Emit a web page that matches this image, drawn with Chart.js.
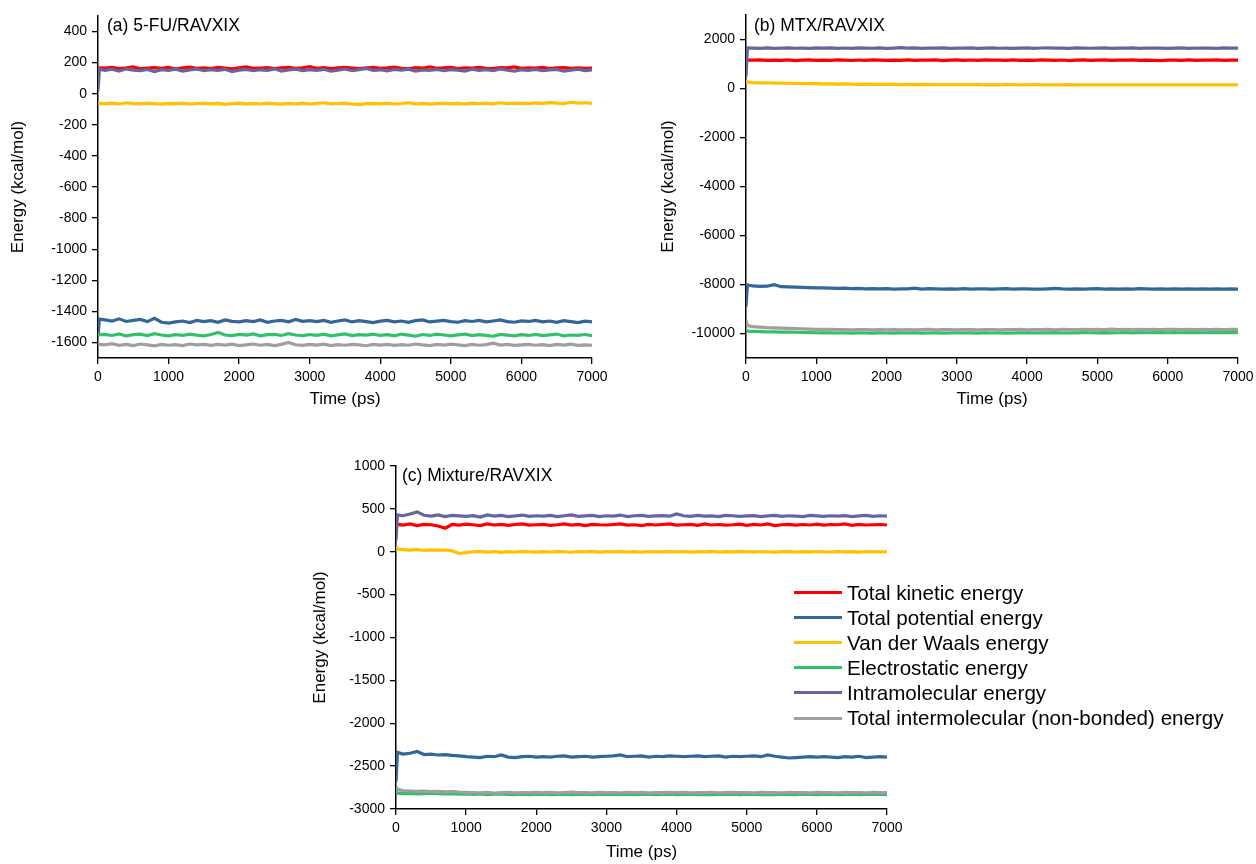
<!DOCTYPE html>
<html><head><meta charset="utf-8">
<script src="https://cdn.jsdelivr.net/npm/chart.js@4.4.1/dist/chart.umd.min.js"></script>
<style>
html,body{margin:0;padding:0;background:#fff;}
body{width:1256px;height:864px;position:relative;overflow:hidden;font-family:"Liberation Sans",Arial,sans-serif;color:#000;}
canvas{position:absolute;}
.plabel{position:absolute;font-size:17.5px;line-height:20px;white-space:nowrap;}
#legend{position:absolute;left:794px;top:580px;}
.lr{height:25.1px;display:flex;align-items:center;font-size:20.6px;white-space:nowrap;}
.sw{width:48px;height:3px;margin-right:5px;flex:none;}
</style></head><body>
<canvas id="ca" width="620" height="420" style="left:0;top:0"></canvas>
<canvas id="cb" width="630" height="420" style="left:650px;top:0"></canvas>
<canvas id="cc" width="630" height="424" style="left:300px;top:440px"></canvas>
<div class="plabel" style="left:107px;top:15px">(a) 5-FU/RAVXIX</div>
<div class="plabel" style="left:754px;top:15px">(b) MTX/RAVXIX</div>
<div class="plabel" style="left:402px;top:465px">(c) Mixture/RAVXIX</div>
<div id="legend"></div>
<script>
const seriesNames = ["Total kinetic energy","Total potential energy","Van der Waals energy","Electrostatic energy","Intramolecular energy","Total intermolecular (non-bonded) energy"];
const seriesColors = ["#ff0000","#336699","#ffc000","#33c06a","#66669e","#9f9f9f"];
const drawOrder = [5,4,3,2,1,0];

const times = [0,20,100,200,300,400,500,600,700,800,900,1000,1100,1200,1300,1400,1500,1600,1700,1800,1900,2000,2100,2200,2300,2400,2500,2600,2700,2800,2900,3000,3100,3200,3300,3400,3500,3600,3700,3800,3900,4000,4100,4200,4300,4400,4500,4600,4700,4800,4900,5000,5100,5200,5300,5400,5500,5600,5700,5800,5900,6000,6100,6200,6300,6400,6500,6600,6700,6800,6900,7000];
const xTicks = [0,1000,2000,3000,4000,5000,6000,7000];

// (a) 5-FU/RAVXIX
const aKinetic = [158,166,
165,170,162,166,172,160,165,168,163,170,
158,166,171,164,167,162,169,165,160,166,
172,163,165,168,161,167,170,164,166,175,
163,168,162,166,170,165,161,167,169,163,
166,171,164,160,168,165,172,163,166,169,
162,167,165,170,164,161,168,166,172,163,
167,165,170,162,166,168,164,167,163,165];
const aPotential = [-1560,-1450,
-1455,-1462,-1448,-1465,-1458,-1452,-1466,-1445,-1470,-1475,
-1468,-1462,-1472,-1458,-1466,-1460,-1470,-1455,-1464,-1468,
-1460,-1466,-1455,-1470,-1462,-1458,-1467,-1452,-1464,-1460,
-1466,-1458,-1470,-1462,-1455,-1468,-1460,-1466,-1472,-1463,
-1458,-1467,-1462,-1470,-1460,-1455,-1468,-1463,-1458,-1466,
-1470,-1460,-1465,-1458,-1468,-1462,-1455,-1466,-1470,-1461,
-1465,-1458,-1468,-1462,-1470,-1460,-1466,-1472,-1463,-1468];
const aVdw = [-68,-62,
-64,-60,-66,-58,-62,-65,-60,-63,-67,-62,
-64,-60,-66,-63,-61,-65,-62,-68,-64,-60,
-65,-62,-66,-60,-64,-67,-62,-65,-61,-66,
-62,-58,-65,-63,-60,-66,-70,-64,-62,-65,
-61,-66,-63,-58,-65,-62,-67,-63,-60,-64,
-62,-66,-60,-64,-61,-65,-58,-63,-60,-62,
-64,-59,-62,-57,-61,-63,-55,-60,-58,-62];
const aElec = [-1545,-1550,
-1548,-1555,-1545,-1558,-1550,-1547,-1556,-1544,-1552,-1558,
-1550,-1555,-1546,-1553,-1558,-1549,-1535,-1552,-1556,-1548,
-1553,-1545,-1557,-1550,-1548,-1555,-1543,-1552,-1556,-1549,
-1554,-1547,-1558,-1551,-1545,-1556,-1550,-1553,-1547,-1555,
-1550,-1557,-1546,-1553,-1560,-1549,-1555,-1547,-1552,-1558,
-1551,-1546,-1556,-1550,-1555,-1560,-1548,-1553,-1557,-1550,
-1555,-1548,-1556,-1551,-1546,-1558,-1552,-1555,-1549,-1556];
const aIntra = [20,158,
150,158,145,160,152,148,156,142,155,150,
158,145,153,160,148,155,150,157,143,152,
156,148,154,150,160,145,153,158,149,155,
150,157,145,152,159,148,155,163,150,154,
147,156,152,158,145,153,150,157,148,155,
152,146,158,150,155,148,160,151,145,154,
150,157,148,153,156,145,152,158,149,153];
const aInter = [-1605,-1612,
-1615,-1608,-1618,-1612,-1620,-1610,-1616,-1622,-1612,-1618,
-1614,-1620,-1610,-1616,-1612,-1619,-1613,-1617,-1611,-1620,
-1615,-1610,-1618,-1613,-1620,-1612,-1600,-1615,-1619,-1612,
-1617,-1611,-1620,-1614,-1618,-1612,-1616,-1621,-1613,-1617,
-1612,-1619,-1614,-1618,-1610,-1616,-1620,-1613,-1617,-1611,
-1616,-1620,-1612,-1618,-1614,-1605,-1617,-1613,-1619,-1615,
-1612,-1618,-1614,-1620,-1613,-1617,-1611,-1619,-1615,-1618];
const yTicksA = [-1600,-1400,-1200,-1000,-800,-600,-400,-200,0,200,400];

// (b) MTX/RAVXIX
const bKinetic = [1150,1160,
1155,1170,1145,1162,1150,1168,1140,1158,1165,1150,
1160,1148,1170,1155,1142,1163,1150,1168,1157,1145,
1162,1150,1170,1147,1160,1155,1165,1140,1158,1168,
1150,1163,1145,1170,1155,1160,1148,1166,1152,1160,
1145,1168,1157,1150,1163,1140,1160,1170,1152,1158,
1165,1148,1160,1155,1170,1145,1162,1150,1135,1158,
1160,1150,1167,1145,1162,1155,1170,1148,1158,1162];
const bPotential = [-8900,-8020,
-8060,-8080,-8070,-8010,-8090,-8100,-8110,-8120,-8130,-8140,
-8140,-8150,-8160,-8150,-8170,-8160,-8175,-8165,-8180,-8170,
-8185,-8175,-8180,-8150,-8185,-8170,-8180,-8190,-8175,-8185,
-8170,-8185,-8180,-8175,-8190,-8180,-8170,-8185,-8180,-8175,
-8185,-8190,-8175,-8160,-8180,-8185,-8175,-8190,-8180,-8170,
-8185,-8175,-8190,-8180,-8185,-8170,-8180,-8190,-8175,-8185,
-8180,-8190,-8175,-8185,-8180,-8190,-8175,-8185,-8180,-8190];
const bVdw = [350,260,
240,230,235,220,225,215,210,205,200,195,
190,185,180,190,175,170,178,168,172,165,
168,162,170,160,165,158,163,160,155,162,
158,155,160,152,157,150,155,158,150,153,
156,150,154,148,152,155,148,150,153,147,
150,153,147,152,148,150,154,146,150,148,
152,147,150,148,153,146,150,148,152,149];
const bElec = [-9880,-9900,
-9910,-9920,-9930,-9935,-9940,-9945,-9950,-9960,-9965,-9970,
-9975,-9970,-9980,-9975,-9985,-9975,-9980,-9985,-9975,-9980,
-9985,-9975,-9980,-9970,-9985,-9980,-9975,-9985,-9980,-9970,
-9980,-9975,-9985,-9970,-9980,-9975,-9985,-9980,-9970,-9975,
-9980,-9970,-9975,-9965,-9980,-9970,-9975,-9965,-9970,-9975,
-9965,-9975,-9970,-9960,-9975,-9965,-9970,-9960,-9965,-9970,
-9960,-9970,-9965,-9960,-9970,-9962,-9965,-9958,-9965,-9960];
const bIntra = [490,1660,
1650,1640,1655,1635,1648,1660,1642,1650,1638,1655,
1645,1658,1640,1652,1636,1660,1648,1642,1655,1640,
1650,1665,1645,1655,1640,1652,1648,1660,1638,1650,
1645,1655,1640,1650,1660,1642,1650,1635,1648,1655,
1640,1652,1660,1645,1650,1638,1655,1648,1642,1650,
1655,1640,1650,1645,1660,1638,1652,1645,1650,1640,
1648,1655,1640,1652,1645,1650,1638,1655,1645,1650];
const bInter = [-9450,-9680,
-9720,-9740,-9760,-9770,-9780,-9790,-9800,-9810,-9820,-9830,
-9835,-9830,-9845,-9840,-9850,-9840,-9845,-9855,-9840,-9850,
-9845,-9855,-9840,-9850,-9845,-9835,-9850,-9845,-9840,-9850,
-9845,-9840,-9850,-9838,-9845,-9850,-9840,-9845,-9835,-9848,
-9840,-9845,-9835,-9850,-9830,-9845,-9840,-9835,-9845,-9830,
-9840,-9825,-9845,-9835,-9840,-9830,-9845,-9835,-9840,-9830,
-9835,-9840,-9828,-9838,-9832,-9840,-9830,-9838,-9835,-9830];
const yTicksB = [-10000,-8000,-6000,-4000,-2000,0,2000];

// (c) Mixture/RAVXIX
const cKinetic = [300,320,
310,325,305,320,315,300,275,318,310,322,
315,305,325,312,320,308,318,325,310,315,
320,308,315,325,310,318,305,320,315,312,
318,325,310,315,305,320,312,318,325,310,
315,320,308,325,312,318,310,315,322,308,
318,312,325,305,315,320,310,318,312,322,
310,318,315,325,308,320,312,315,318,312];
const cPotential = [-2680,-2340,
-2360,-2350,-2330,-2365,-2360,-2370,-2365,-2375,-2380,-2390,
-2395,-2400,-2385,-2390,-2370,-2395,-2400,-2390,-2385,-2395,
-2390,-2395,-2385,-2380,-2395,-2390,-2385,-2395,-2390,-2385,
-2380,-2370,-2390,-2385,-2380,-2395,-2385,-2390,-2380,-2385,
-2390,-2385,-2380,-2390,-2385,-2380,-2395,-2385,-2390,-2385,
-2380,-2390,-2370,-2385,-2395,-2405,-2400,-2395,-2390,-2395,
-2390,-2395,-2400,-2390,-2395,-2385,-2400,-2395,-2390,-2395];
const cVdw = [60,30,
25,20,28,15,22,18,20,10,-20,-10,
0,5,-5,3,-8,2,-3,5,0,-5,
2,-3,5,0,-6,3,-2,4,-4,1,
0,5,-3,2,-5,3,0,-2,4,-1,
3,-4,2,0,5,-3,1,-2,4,0,
-2,3,0,-4,2,5,-3,1,-1,3,
0,-3,4,-2,1,-5,3,0,-2,0];
const cElec = [-2790,-2815,
-2820,-2818,-2825,-2822,-2815,-2820,-2825,-2822,-2828,-2825,
-2830,-2825,-2832,-2828,-2825,-2830,-2833,-2828,-2832,-2830,
-2828,-2832,-2830,-2826,-2834,-2830,-2828,-2832,-2830,-2828,
-2830,-2832,-2828,-2834,-2830,-2826,-2832,-2830,-2828,-2832,
-2830,-2828,-2834,-2830,-2832,-2828,-2830,-2826,-2832,-2830,
-2828,-2832,-2830,-2834,-2828,-2830,-2832,-2828,-2830,-2834,
-2830,-2828,-2832,-2830,-2826,-2832,-2830,-2828,-2830,-2832];
const cIntra = [130,430,
420,440,465,425,415,430,410,425,418,412,
420,405,430,415,425,410,418,428,412,420,
415,425,410,420,430,412,418,425,410,420,
415,428,410,420,425,412,418,422,415,440,
420,412,425,415,418,410,425,420,412,418,
422,410,418,425,412,420,415,410,425,418,
412,420,415,422,410,418,425,412,420,415];
const cInter = [-2740,-2770,
-2785,-2790,-2795,-2792,-2798,-2795,-2800,-2796,-2802,-2805,
-2808,-2812,-2806,-2815,-2810,-2805,-2812,-2808,-2810,-2806,
-2810,-2806,-2812,-2808,-2804,-2810,-2808,-2812,-2806,-2810,
-2808,-2812,-2805,-2810,-2806,-2812,-2808,-2810,-2805,-2810,
-2806,-2812,-2808,-2810,-2805,-2812,-2808,-2806,-2810,-2808,
-2812,-2806,-2810,-2808,-2812,-2805,-2810,-2808,-2812,-2806,
-2810,-2808,-2812,-2806,-2810,-2808,-2812,-2806,-2810,-2808];
const yTicksC = [-3000,-2500,-2000,-1500,-1000,-500,0,500,1000];

Chart.defaults.font.family = "'Liberation Sans', Arial, sans-serif";
Chart.defaults.color = "#000";

function makeDatasets(list){
  return list.map((arr,i)=>({
    label: seriesNames[i],
    data: times.map((t,k)=>({x:t,y:arr[k]})),
    borderColor: seriesColors[i],
    backgroundColor: seriesColors[i],
    borderWidth: 3.2,
    pointRadius: 0,
    tension: 0,
    fill: false,
    order: drawOrder[i]
  }));
}

function makeChart(id, lists, yMin, yMax, yTicks, cfg){
  new Chart(document.getElementById(id), {
    type: 'line',
    data: { datasets: makeDatasets(lists) },
    options: {
      responsive: false,
      animation: false,
      events: [],
      layout: { padding: { left: 0, right: cfg.padR, top: cfg.padT, bottom: 0 } },
      plugins: { legend: { display: false }, tooltip: { enabled: false } },
      scales: {
        x: {
          type: 'linear', min: 0, max: 7000,
          afterBuildTicks: s => { s.ticks = xTicks.map(v => ({value: v})); },
          afterFit: s => { s.height = cfg.xH; },
          ticks: { font: { size: 14 }, color: '#000', padding: 5, maxRotation: 0, callback: v => String(v) },
          grid: { display: true, drawOnChartArea: false, drawTicks: true, tickLength: 6, color: '#000', lineWidth: 1.3 },
          border: { display: true, color: '#000', width: 1.5 },
          title: { display: true, text: 'Time (ps)', font: { size: 17 }, color: '#000', padding: { top: 0, bottom: cfg.xTitlePad } }
        },
        y: {
          type: 'linear', min: yMin, max: yMax,
          afterBuildTicks: s => { s.ticks = yTicks.map(v => ({value: v})); },
          afterFit: s => { s.width = cfg.yW; },
          ticks: { font: { size: 14 }, color: '#000', padding: 5, callback: v => String(v) },
          grid: { display: true, drawOnChartArea: false, drawTicks: true, tickLength: 6, color: '#000', lineWidth: 1.3 },
          border: { display: true, color: '#000', width: 1.5 },
          title: { display: true, text: 'Energy (kcal/mol)', font: { size: 17 }, color: '#000', padding: { top: cfg.yTitlePad, bottom: 0 } }
        }
      }
    }
  });
}

makeChart('ca', [aKinetic,aPotential,aVdw,aElec,aIntra,aInter], -1700, 500, yTicksA,
  { padR: 28, padT: 16, xH: 62, yW: 98, xTitlePad: 10, yTitlePad: 8 });
makeChart('cb', [bKinetic,bPotential,bVdw,bElec,bIntra,bInter], -11000, 3000, yTicksB,
  { padR: 42, padT: 15, xH: 62, yW: 96, xTitlePad: 10, yTitlePad: 8 });
makeChart('cc', [cKinetic,cPotential,cVdw,cElec,cIntra,cInter], -3000, 1000, yTicksC,
  { padR: 43, padT: 26, xH: 55, yW: 96, xTitlePad: 1, yTitlePad: 10 });

const lg = document.getElementById('legend');
seriesNames.forEach((n,i)=>{
  const r = document.createElement('div'); r.className = 'lr';
  const s = document.createElement('div'); s.className = 'sw'; s.style.background = seriesColors[i];
  const t = document.createElement('span'); t.textContent = n;
  r.appendChild(s); r.appendChild(t); lg.appendChild(r);
});
</script>
</body></html>
